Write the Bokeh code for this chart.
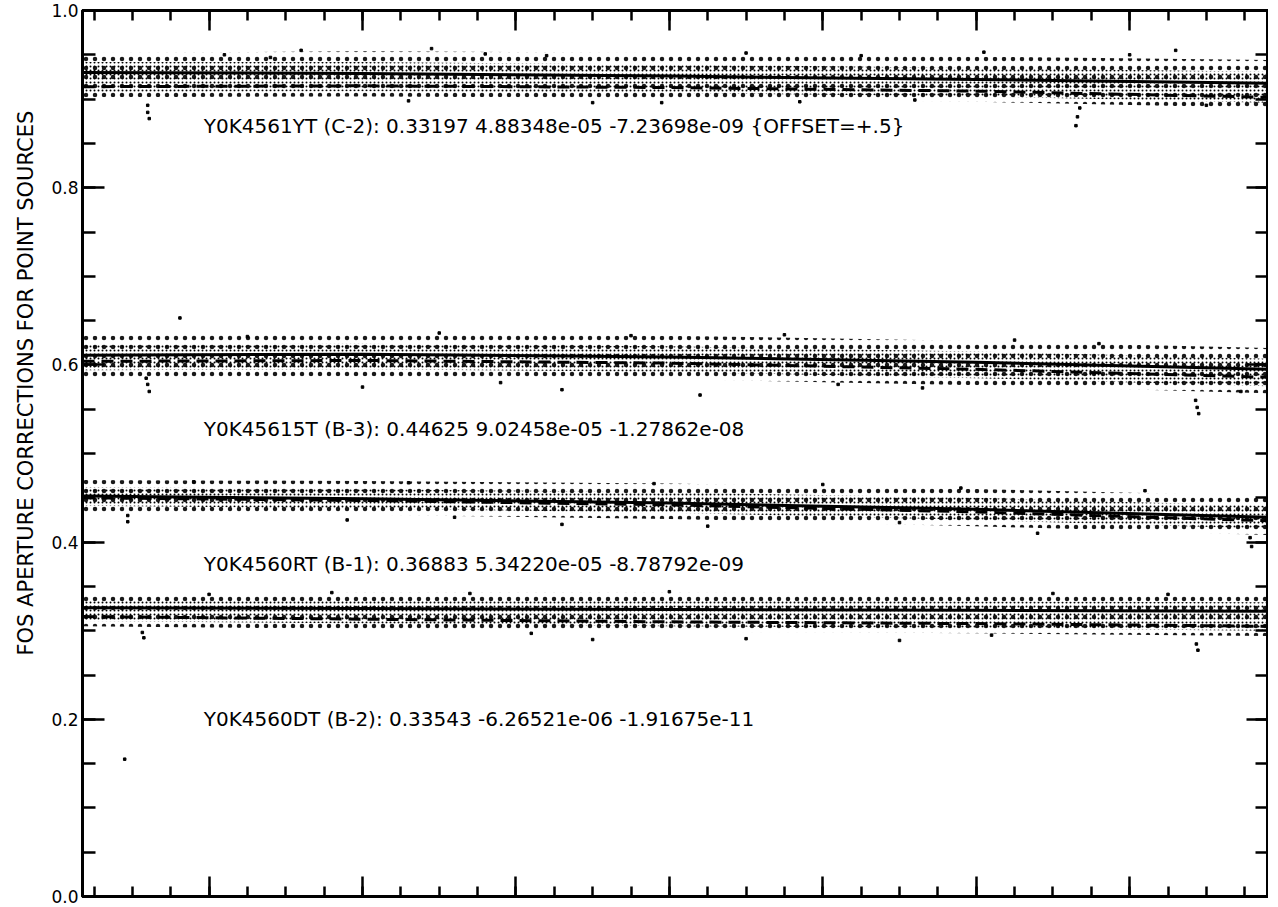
from bokeh.plotting import figure
from bokeh.models import LinearAxis, FixedTicker, Range1d, Label, NumeralTickFormatter, Title
from bokeh.embed import file_html
from bokeh.resources import INLINE

# ---- data (x in Angstrom, G400H range) ----
x_knots = [3235, 3600, 4000, 4400, 4781]

c2_solid = [0.930, 0.929, 0.926, 0.922, 0.918]
c2_dash = [0.914, 0.915, 0.913, 0.909, 0.902]
c2_hi_dense = [0.942, 0.942, 0.939, 0.935, 0.931]
c2_lo_dense = [0.908, 0.909, 0.907, 0.903, 0.896]
c2_hi_sparse = [0.952, 0.954, 0.952, 0.948, 0.944]
c2_lo_sparse = [0.902, 0.903, 0.901, 0.897, 0.890]

b3_solid = [0.611, 0.612, 0.609, 0.603, 0.595]
b3_dash = [0.604, 0.605, 0.602, 0.595, 0.586]
b3_hi_dense = [0.623, 0.624, 0.621, 0.615, 0.607]
b3_lo_dense = [0.594, 0.595, 0.592, 0.585, 0.576]
b3_hi_sparse = [0.633, 0.635, 0.633, 0.627, 0.619]
b3_lo_sparse = [0.586, 0.587, 0.584, 0.577, 0.568]

b1_solid = [0.452, 0.449, 0.444, 0.437, 0.428]
b1_dash = [0.450, 0.447, 0.442, 0.434, 0.424]
b1_hi_dense = [0.462, 0.460, 0.456, 0.450, 0.441]
b1_lo_dense = [0.441, 0.438, 0.433, 0.425, 0.415]
b1_hi_sparse = [0.470, 0.469, 0.466, 0.460, 0.452]
b1_lo_sparse = [0.434, 0.431, 0.426, 0.418, 0.408]

b2_solid = [0.326, 0.325, 0.324, 0.323, 0.322]
b2_dash = [0.316, 0.313, 0.310, 0.308, 0.305]
b2_hi_dense = [0.334, 0.334, 0.334, 0.333, 0.332]
b2_lo_dense = [0.311, 0.308, 0.305, 0.303, 0.300]
b2_hi_sparse = [0.342, 0.343, 0.343, 0.342, 0.341]
b2_lo_sparse = [0.305, 0.302, 0.299, 0.297, 0.294]

# isolated outlying points
out_x = [3320, 3320, 3322, 3660, 3990, 4170, 4320, 4530, 4532, 4535, 3520, 3690, 4660,
         3420, 3480, 3760, 3840, 4100, 4250, 4410, 4600, 3900, 4700,
         3318, 3320, 3322, 3362, 3600, 3860, 4040, 4330, 4686, 4688, 4690, 4745,
         3450, 3700, 3950, 4150, 4450, 4560, 3780, 4220,
         3294, 3294, 3860, 4050, 4480, 4757, 4759, 3580,
         3380, 3660, 3980, 4200, 4380, 4620, 3720, 4300,
         3313, 3315, 3900, 4100, 4300, 4687, 4689, 3290,
         3400, 3560, 3740, 4000, 4500, 4650, 3820, 4420]
out_y = [0.893, 0.885, 0.878, 0.898, 0.896, 0.897, 0.899, 0.870, 0.880, 0.890, 0.955, 0.957, 0.955,
         0.950, 0.947, 0.951, 0.949, 0.952, 0.949, 0.953, 0.950, 0.896, 0.893,
         0.585, 0.578, 0.570, 0.653, 0.575, 0.572, 0.566, 0.574, 0.560, 0.552, 0.545, 0.570,
         0.632, 0.636, 0.633, 0.634, 0.628, 0.624, 0.580, 0.578,
         0.430, 0.423, 0.420, 0.418, 0.410, 0.405, 0.395, 0.425,
         0.468, 0.467, 0.466, 0.465, 0.461, 0.458, 0.428, 0.422,
         0.298, 0.292, 0.290, 0.291, 0.289, 0.285, 0.278, 0.155,
         0.341, 0.343, 0.342, 0.344, 0.342, 0.341, 0.297, 0.295]

labels = [
    "Y0K4561YT (C-2): 0.33197  4.88348e-05 -7.23698e-09 {OFFSET=+.5}",
    "Y0K45615T (B-3): 0.44625  9.02458e-05 -1.27862e-08",
    "Y0K4560RT (B-1): 0.36883  5.34220e-05 -8.78792e-09",
    "Y0K4560DT (B-2): 0.33543 -6.26521e-06 -1.91675e-11",
]
label_x = [3393, 3393, 3393, 3393]
label_y = [0.870, 0.528, 0.375, 0.200]
y_title = "FOS APERTURE CORRECTIONS FOR POINT SOURCES"

y_major = [0.0, 0.2, 0.4, 0.6, 0.8, 1.0]
y_minor = [round(i * 0.05, 2) for i in range(21)]
x_major = [3400, 3600, 3800, 4000, 4200, 4400, 4600]
x_minor = list(range(3250, 4781, 50))

FONT = "DejaVu Sans"

p = figure(width=1268, height=907, output_backend="svg", toolbar_location=None,
           x_range=Range1d(3235, 4781), y_range=Range1d(0, 1),
           min_border_left=80, min_border_right=0, min_border_top=10, min_border_bottom=11,
           background_fill_color="white", border_fill_color="white")
p.grid.visible = False
p.outline_line_color = "black"
p.outline_line_width = 3


def style_axis(ax, labels_on, minor_in, major_in):
    ax.axis_line_width = 3
    ax.axis_line_color = "black"
    ax.major_tick_in = major_in
    ax.major_tick_out = 0
    ax.minor_tick_in = minor_in
    ax.minor_tick_out = 0
    ax.major_tick_line_width = 2.5
    ax.minor_tick_line_width = 2.5
    ax.major_tick_line_color = "black"
    ax.minor_tick_line_color = "black"
    if not labels_on:
        ax.major_label_text_font_size = "0px"
        ax.major_label_text_alpha = 0
        ax.major_label_standoff = 0


ya = p.yaxis[0]
ya.ticker = FixedTicker(ticks=y_major, minor_ticks=y_minor)
style_axis(ya, True, 13, 22)
ya.formatter = NumeralTickFormatter(format="0.0")
ya.major_label_text_font = FONT
ya.major_label_text_font_size = "17px"
ya.major_label_text_color = "black"
ya.major_label_standoff = 4

xa = p.xaxis[0]
xa.ticker = FixedTicker(ticks=x_major, minor_ticks=x_minor)
style_axis(xa, False, 10, 20)

ra = LinearAxis(ticker=FixedTicker(ticks=y_major, minor_ticks=y_minor))
style_axis(ra, False, 13, 22)
p.add_layout(ra, "right")
ta = LinearAxis(ticker=FixedTicker(ticks=x_major, minor_ticks=x_minor))
style_axis(ta, False, 10, 20)
p.add_layout(ta, "above")

series = [
    (c2_solid, c2_dash, c2_hi_dense, c2_lo_dense, c2_hi_sparse, c2_lo_sparse),
    (b3_solid, b3_dash, b3_hi_dense, b3_lo_dense, b3_hi_sparse, b3_lo_sparse),
    (b1_solid, b1_dash, b1_hi_dense, b1_lo_dense, b1_hi_sparse, b1_lo_sparse),
    (b2_solid, b2_dash, b2_hi_dense, b2_lo_dense, b2_hi_sparse, b2_lo_sparse),
]

for solid, dash, hi_d, lo_d, hi_s, lo_s in series:
    p.varea(x=x_knots, y1=lo_s, y2=hi_s, fill_alpha=0,
            hatch_pattern="dot", hatch_scale=9, hatch_color="black",
            hatch_weight=1.3, hatch_alpha=0.9)
    p.varea(x=x_knots, y1=lo_d, y2=hi_d, fill_alpha=0,
            hatch_pattern="dot", hatch_scale=4, hatch_color="black",
            hatch_weight=1.1, hatch_alpha=1.0)
    p.line(x_knots, solid, line_color="black", line_width=3)
    p.line(x_knots, dash, line_color="black", line_width=3, line_dash="12 7")

p.scatter(out_x, out_y, marker="square", size=2.5, color="black")

for t, lx, ly in zip(labels, label_x, label_y):
    p.add_layout(Label(x=lx, y=ly, text=t, text_font=FONT, text_font_size="20px",
                       text_color="black", text_baseline="middle", text_align="left"))

# vertical y-axis title, anchored from the bottom so it sits above mid-frame
yt = Title(text=y_title, align="left", offset=241, text_font=FONT,
           text_font_size="21px", text_font_style="normal", text_color="black",
           standoff=22)
p.add_layout(yt, "left")

open("out.html", "w").write(file_html(p, INLINE))
